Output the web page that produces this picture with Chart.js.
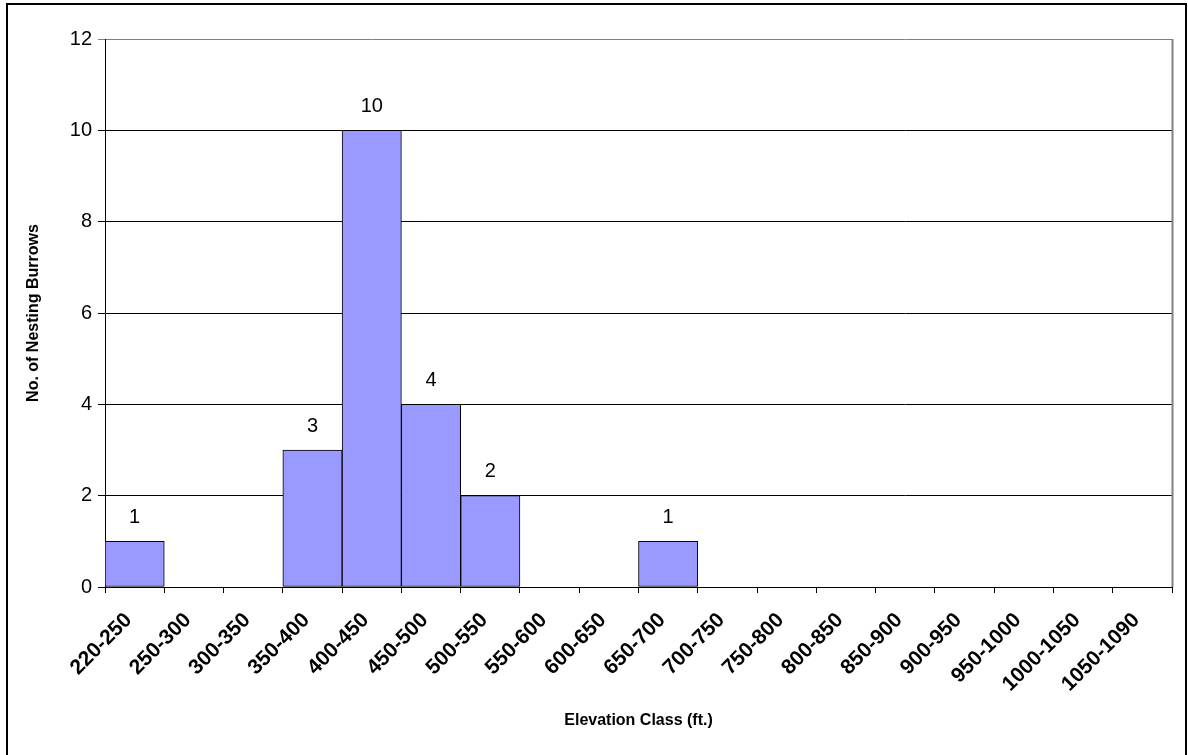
<!DOCTYPE html>
<html>
<head>
<meta charset="utf-8">
<script src="https://cdn.jsdelivr.net/npm/chart.js@4.4.1/dist/chart.umd.min.js"></script>
<style>
  html, body { margin: 0; padding: 0; background: #fff; }
  #wrap { width: 1188px; height: 755px; }
</style>
</head>
<body>
<div id="wrap"><canvas id="burrowChart" width="1188" height="755"></canvas></div>
<script>
// Elevation classes and burrow counts
const elevationClasses = ['220-250', '250-300', '300-350', '350-400', '400-450', '450-500',
    '500-550', '550-600', '600-650', '650-700', '700-750', '750-800', '800-850',
    '850-900', '900-950', '950-1000', '1000-1050', '1050-1090'];
const burrowCounts = [1, 0, 0, 3, 10, 4, 2, 0, 0, 1, 0, 0, 0, 0, 0, 0, 0, 0];
const yTicks = [0, 2, 4, 6, 8, 10, 12];

const FONT = "'Liberation Sans', Arial, sans-serif";

// Value labels above the non-empty bars
const barLabels = {
    id: 'barLabels',
    afterDatasetsDraw(chart) {
        const ctx = chart.ctx;
        const meta = chart.getDatasetMeta(0);
        ctx.save();
        ctx.font = '20px ' + FONT;
        ctx.fillStyle = '#000';
        ctx.textAlign = 'center';
        ctx.textBaseline = 'bottom';
        meta.data.forEach((bar, i) => {
            const v = burrowCounts[i];
            if (v > 0) ctx.fillText(String(v), bar.x, bar.y - 14);
        });
        ctx.restore();
    }
};

// Grey right edge of the plot and the black frame round the chart
const frame = {
    id: 'frame',
    afterDraw(chart) {
        const ctx = chart.ctx;
        const a = chart.chartArea;
        ctx.save();
        ctx.strokeStyle = '#808080';
        ctx.lineWidth = 2;
        ctx.beginPath();
        ctx.moveTo(a.right + 0.5, a.top);
        ctx.lineTo(a.right + 0.5, a.bottom);
        ctx.stroke();
        ctx.strokeStyle = '#000';
        ctx.lineWidth = 2;
        ctx.strokeRect(7, 4, 1179, 760);
        ctx.restore();
    }
};

const ctx = document.getElementById('burrowChart').getContext('2d');

new Chart(ctx, {
    type: 'bar',
    data: {
        labels: elevationClasses,
        datasets: [{
            data: burrowCounts,
            backgroundColor: '#9999FF',
            borderColor: '#000000',
            borderWidth: 1,
            borderSkipped: false,
            barPercentage: 1,
            categoryPercentage: 1
        }]
    },
    options: {
        responsive: false,
        animation: false,
        layout: { padding: { left: 0, top: 39, right: 16, bottom: 0 } },
        plugins: {
            legend: { display: false },
            tooltip: { enabled: false }
        },
        scales: {
            x: {
                afterFit(scale) { scale.height = 168; },
                grid: {
                    offset: true,
                    drawOnChartArea: false,
                    color: '#000',
                    tickLength: 6
                },
                border: { color: '#000', width: 1 },
                ticks: {
                    color: '#000',
                    font: { family: FONT, size: 21, weight: 'bold' },
                    minRotation: 45,
                    maxRotation: 45,
                    autoSkip: false,
                    padding: 15,
                    labelOffset: -6
                },
                title: {
                    display: true,
                    text: 'Elevation Class (ft.)',
                    color: '#000',
                    font: { family: FONT, size: 16, weight: 'bold' },
                    padding: { top: 0, bottom: 25 }
                }
            },
            y: {
                min: 0,
                max: 12,
                afterFit(scale) { scale.width = 105; },
                afterBuildTicks(scale) { scale.ticks = yTicks.map(v => ({ value: v })); },
                grid: {
                    color: c => (c.tick && c.tick.value === 12 ? '#808080' : '#000'),
                    tickLength: 7
                },
                border: { color: '#000', width: 1 },
                ticks: {
                    color: '#000',
                    font: { family: FONT, size: 20 },
                    padding: 6
                },
                title: {
                    display: true,
                    text: 'No. of Nesting Burrows',
                    color: '#000',
                    font: { family: FONT, size: 16, weight: 'bold' },
                    padding: { top: 24, bottom: 0 }
                }
            }
        }
    },
    plugins: [barLabels, frame]
});
</script>
</body>
</html>
